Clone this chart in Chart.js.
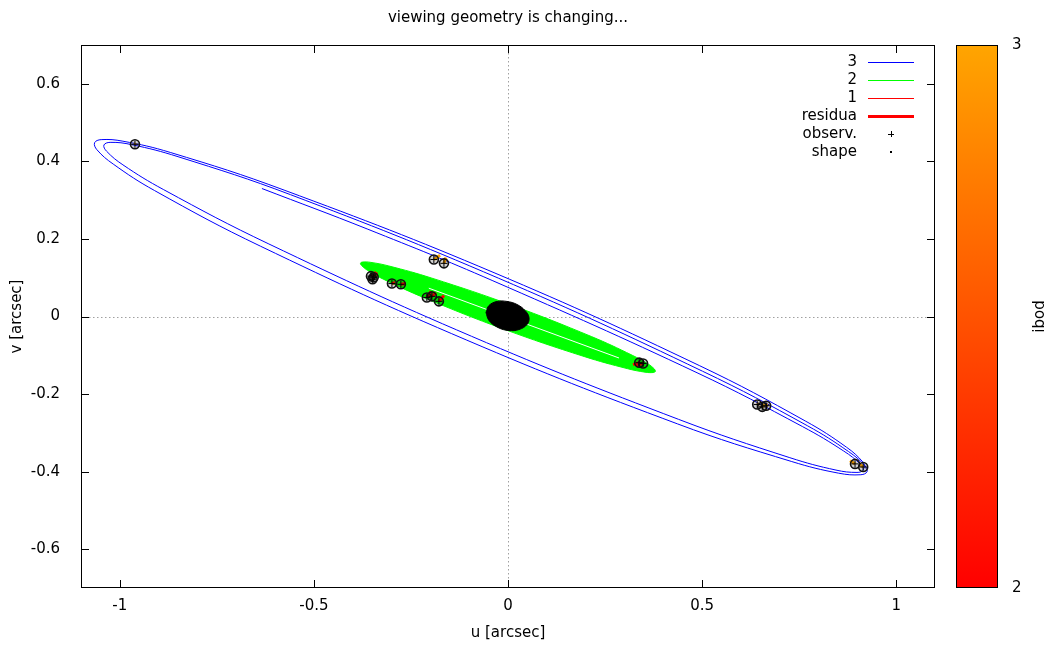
<!DOCTYPE html>
<html>
<head>
<meta charset="utf-8">
<script src="https://cdn.jsdelivr.net/npm/chart.js@4/dist/chart.umd.min.js"></script>
<style>
  html, body { margin: 0; padding: 0; background: #fff; }
  #c { display: block; }
</style>
</head>
<body>
<canvas id="c" width="1046" height="646"></canvas>
<script>
// axes
const uRange = [-1.1, 1.1];
const vRange = [-0.7, 0.7];
const uTicks = [-1, -0.5, 0, 0.5, 1];
const vTicks = [-0.6, -0.4, -0.2, 0, 0.2, 0.4, 0.6];
const ibodTicks = [2, 3];

// body 3 orbit, several revolutions (u, v in arcsec)
const orbit3U = [-0.634, -0.361, -0.041, 0.487, 0.759, 0.865, 0.908, 0.915,
  0.899, 0.845, 0.726, 0.439, -0.094, -0.616, -0.887, -0.992, -1.034, -1.041,
  -1.025, -0.969, -0.850, -0.560, -0.025, 0.501, 0.772, 0.877, 0.919, 0.925,
  0.909, 0.852, 0.731, 0.437, -0.106, -0.637, -0.911, -1.017, -1.059, -1.065,
  -1.048, -0.992, -0.870, -0.577, -0.036, 0.494, 0.767, 0.872, 0.914, 0.920];
const orbit3V = [0.330, 0.225, 0.093, -0.145, -0.284, -0.347, -0.381, -0.396,
  -0.402, -0.396, -0.364, -0.265, -0.051, 0.187, 0.327, 0.391, 0.426, 0.442,
  0.449, 0.443, 0.412, 0.314, 0.099, -0.141, -0.282, -0.348, -0.384, -0.400,
  -0.408, -0.404, -0.374, -0.277, -0.061, 0.181, 0.325, 0.393, 0.430, 0.448,
  0.456, 0.452, 0.423, 0.326, 0.113, -0.127, -0.270, -0.337, -0.375, -0.392];

// body 2 orbit envelope
const orbit2U = [0.380, 0.374, 0.353, 0.307, 0.196, -0.011, -0.214, -0.320, -0.361, -0.377, -0.380,
  -0.374, -0.353, -0.307, -0.196, 0.011, 0.215, 0.320, 0.361, 0.377, 0.380];
const orbit2V = [-0.1415, -0.1445, -0.1435, -0.1343, -0.1031, -0.0325, 0.0475, 0.0957, 0.1185, 0.1313, 0.1375,
  0.1405, 0.1395, 0.1303, 0.0989, 0.0285, -0.0517, -0.0999, -0.1225, -0.1353, -0.1415];
// untouched strip along the body 2 orbit axis
const gapU = [-0.204, 0.286];
const gapV = [0.073, -0.107];

// body 1 (primary) wobble
const orbit1U = [0.012, 0, -0.012, 0, 0.012];
const orbit1V = [0, 0.006, 0, -0.006, 0];

// observations and model positions, body 3
const obs3U = [-0.961, -0.191, -0.165, 0.642, 0.655, 0.665, 0.894, 0.915];
const obs3V = [0.444, 0.147, 0.137, -0.227, -0.233, -0.230, -0.380, -0.388];
const mod3U = [-0.959, -0.175, -0.160, 0.647, 0.662, 0.670, 0.881, 0.905];
const mod3V = [0.447, 0.158, 0.152, -0.225, -0.227, -0.227, -0.372, -0.380];

// observations and model positions, body 2
const obs2U = [-0.353, -0.349, -0.346, -0.299, -0.276, -0.209, -0.196, -0.178, 0.338, 0.348];
const obs2V = [0.104, 0.096, 0.101, 0.085, 0.083, 0.049, 0.052, 0.039, -0.119, -0.121];
const mod2U = [-0.340, -0.338, -0.338, -0.291, -0.263, -0.198, -0.186, -0.165, 0.322, 0.330];
const mod2V = [0.114, 0.111, 0.114, 0.088, 0.085, 0.065, 0.062, 0.054, -0.124, -0.127];

// silhouette of the primary
const blobU = [-0.0567, -0.049, -0.0284, -0.0026, 0.0232, 0.0438, 0.0541, 0.0490, 0.0284, 0.0026, -0.0258, -0.049, -0.0567];
const blobV = [0.0103, 0.0284, 0.0388, 0.0388, 0.0310, 0.0155, -0.0026, -0.0207, -0.0336, -0.0362, -0.0284, -0.0103, 0.0103];

const ibodColors = ['#ff0000', '#ffa500'];
const font = { family: 'DejaVu Sans', size: 15 };
const fontCss = '15px "DejaVu Sans"';

const pts = (us, vs) => us.map((u, i) => ({ x: u, y: vs[i] }));
function segs(u0, v0, u1, v1) {
  const out = [];
  u0.forEach((u, i) => {
    out.push({ x: u, y: v0[i] }, { x: u1[i], y: v1[i] }, { x: u, y: null });
  });
  return out;
}
const fmt = v => String(+(+v).toFixed(2));

const datasets = [
  { label: '3', key: 'line', data: pts(orbit3U, orbit3V), showLine: true, borderColor: '#0000ff',
    borderWidth: 1, pointRadius: 0, tension: 0.4, fill: false, order: 9 },
  { label: '2', key: 'line', data: pts(orbit2U, orbit2V), showLine: true, borderColor: '#00ff00',
    backgroundColor: '#00ff00', borderWidth: 1, pointRadius: 0, tension: 0.4, fill: 'shape', order: 8 },
  { label: '', data: pts(gapU, gapV), showLine: true, borderColor: '#ffffff', borderWidth: 1,
    pointRadius: 0, order: 7 },
  { label: '1', key: 'line', data: pts(orbit1U, orbit1V), showLine: true, borderColor: '#ff0000',
    borderWidth: 1, pointRadius: 0, tension: 0.4, order: 6 },
  { label: 'residua', key: 'line', data: segs(obs2U, obs2V, mod2U, mod2V), showLine: true,
    borderColor: ibodColors[0], borderWidth: 3, pointRadius: 0, spanGaps: false, order: 5 },
  { label: '', data: segs(obs3U, obs3V, mod3U, mod3V), showLine: true,
    borderColor: ibodColors[1], borderWidth: 3, pointRadius: 0, spanGaps: false, order: 5 },
  { label: 'observ.', key: 'plus', data: pts(obs3U.concat(obs2U), obs3V.concat(obs2V)), showLine: false,
    pointStyle: 'cross', pointRadius: 3.5, borderColor: '#000', borderWidth: 1, order: 3 },
  { label: 'shape', key: 'dot', data: pts(blobU, blobV), showLine: true, borderColor: '#000',
    backgroundColor: '#000', borderWidth: 1, pointRadius: 0, tension: 0.4, fill: 'shape', order: 2 },
  { label: '', data: pts(obs3U.concat(obs2U), obs3V.concat(obs2V)), showLine: false,
    pointStyle: 'circle', pointRadius: 4.5, borderColor: '#111', borderWidth: 1.6,
    backgroundColor: 'rgba(0,0,0,0.18)', order: 4 }
];

// frame, inward ticks, zero axes, key, colour box and title
const gnuFrame = {
  id: 'gnuFrame',
  beforeDatasetsDraw(chart) {
    const { ctx, chartArea: a, scales: { x, y } } = chart;
    const x0 = Math.round(x.getPixelForValue(0)) + 0.5;
    const y0 = Math.round(y.getPixelForValue(0)) + 0.5;
    ctx.save();
    ctx.strokeStyle = '#a0a0a0';
    ctx.lineWidth = 1;
    ctx.setLineDash([1.5, 2.5]);
    ctx.beginPath();
    ctx.moveTo(x0, a.top); ctx.lineTo(x0, a.bottom);
    ctx.moveTo(a.left, y0); ctx.lineTo(a.right, y0);
    ctx.stroke();
    ctx.restore();
  },
  afterDraw(chart) {
    const { ctx, chartArea: a, scales: { x, y } } = chart;
    ctx.save();
    ctx.strokeStyle = '#000';
    ctx.lineWidth = 1;
    ctx.strokeRect(a.left + 0.5, a.top + 0.5, a.right - a.left - 1, a.bottom - a.top - 1);
    ctx.beginPath();
    x.ticks.forEach(t => {
      const px = Math.round(x.getPixelForValue(t.value)) + 0.5;
      ctx.moveTo(px, a.bottom); ctx.lineTo(px, a.bottom - 8);
      ctx.moveTo(px, a.top); ctx.lineTo(px, a.top + 8);
    });
    y.ticks.forEach(t => {
      const py = Math.round(y.getPixelForValue(t.value)) + 0.5;
      ctx.moveTo(a.left, py); ctx.lineTo(a.left + 8, py);
      ctx.moveTo(a.right, py); ctx.lineTo(a.right - 8, py);
    });
    ctx.stroke();

    // title
    ctx.fillStyle = '#000';
    ctx.font = fontCss;
    ctx.textAlign = 'center';
    ctx.textBaseline = 'middle';
    ctx.fillText('viewing geometry is changing...', (a.left + a.right) / 2, 18);

    // key
    const keyX = 857, lineL = 868, lineR = 914;
    let row = 0;
    chart.data.datasets.forEach(ds => {
      if (!ds.label) return;
      const cy = a.top + 17 + row * 18;
      ctx.fillStyle = '#000';
      ctx.textAlign = 'right';
      ctx.fillText(ds.label, keyX, cy);
      if (ds.key === 'line') {
        ctx.strokeStyle = ds.borderColor;
        ctx.lineWidth = ds.borderWidth;
        ctx.beginPath();
        ctx.moveTo(lineL, Math.round(cy) + 0.5); ctx.lineTo(lineR, Math.round(cy) + 0.5);
        ctx.stroke();
      } else if (ds.key === 'plus') {
        const cx = (lineL + lineR) / 2;
        ctx.strokeStyle = '#000';
        ctx.lineWidth = 1;
        ctx.beginPath();
        ctx.moveTo(cx - 3, Math.round(cy) + 0.5); ctx.lineTo(cx + 3, Math.round(cy) + 0.5);
        ctx.moveTo(Math.round(cx) + 0.5, cy - 3); ctx.lineTo(Math.round(cx) + 0.5, cy + 3);
        ctx.stroke();
      } else if (ds.key === 'dot') {
        ctx.fillStyle = '#000';
        ctx.fillRect(Math.round((lineL + lineR) / 2) - 1, Math.round(cy) - 1, 2, 2);
      }
      row++;
    });

    // colour box for ibod
    const cbL = a.right + 21, cbR = a.right + 63;
    const grad = ctx.createLinearGradient(0, a.bottom, 0, a.top);
    grad.addColorStop(0, ibodColors[0]);
    grad.addColorStop(1, ibodColors[1]);
    ctx.fillStyle = grad;
    ctx.fillRect(cbL, a.top, cbR - cbL, a.bottom - a.top);
    ctx.strokeStyle = '#000';
    ctx.lineWidth = 1;
    ctx.strokeRect(cbL + 0.5, a.top + 0.5, cbR - cbL - 1, a.bottom - a.top - 1);
    ctx.fillStyle = '#000';
    ctx.textAlign = 'left';
    ibodTicks.forEach(v => {
      const f = (v - ibodTicks[0]) / (ibodTicks[ibodTicks.length - 1] - ibodTicks[0]);
      ctx.fillText(String(v), cbR + 14, a.bottom - f * (a.bottom - a.top));
    });
    ctx.translate(1040, (a.top + a.bottom) / 2);
    ctx.rotate(-Math.PI / 2);
    ctx.textAlign = 'center';
    ctx.fillText('ibod', 0, 0);
    ctx.restore();
  }
};

new Chart(document.getElementById('c'), {
  type: 'scatter',
  data: { datasets },
  options: {
    responsive: false,
    devicePixelRatio: 1,
    animation: false,
    events: [],
    layout: { padding: { top: 45, right: 111, left: 0, bottom: 0 } },
    plugins: { legend: { display: false }, tooltip: { enabled: false }, title: { display: false } },
    scales: {
      x: {
        type: 'linear', min: uRange[0], max: uRange[1],
        afterBuildTicks: s => { s.ticks = uTicks.map(v => ({ value: v })); },
        afterFit: s => { s.height = 58; },
        grid: { display: false, drawTicks: false },
        border: { display: false },
        ticks: { color: '#000', font, padding: 9, maxRotation: 0, autoSkip: false, callback: fmt },
        title: { display: true, text: 'u [arcsec]', color: '#000', font, padding: { top: 0, bottom: 4 } }
      },
      y: {
        type: 'linear', min: vRange[0], max: vRange[1],
        afterBuildTicks: s => { s.ticks = vTicks.map(v => ({ value: v })); },
        afterFit: s => { s.width = 81; },
        grid: { display: false, drawTicks: false },
        border: { display: false },
        ticks: { color: '#000', font, padding: 21, autoSkip: false, callback: fmt },
        title: { display: true, text: 'v [arcsec]', color: '#000', font, padding: { top: 8, bottom: 0 } }
      }
    }
  },
  plugins: [gnuFrame]
});
</script>
</body>
</html>
